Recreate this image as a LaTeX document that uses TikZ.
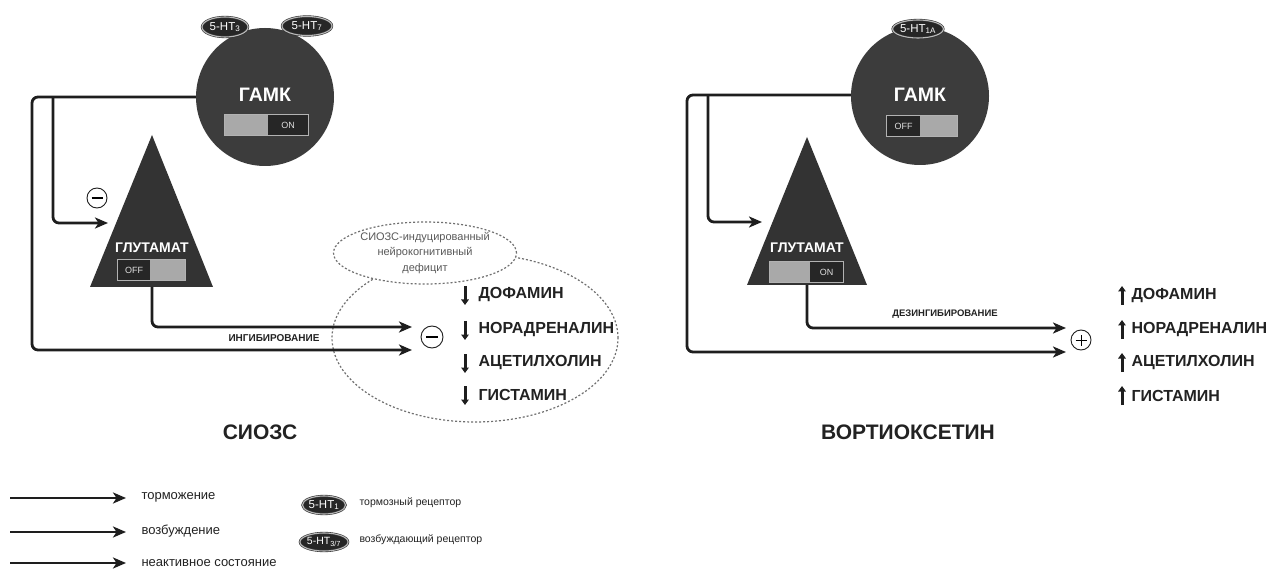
\documentclass[tikz,border=0pt]{standalone}
\usepackage{fontspec}
\setmainfont{Liberation Sans}
\usetikzlibrary{arrows.meta,shapes.geometric}
\definecolor{neur}{HTML}{3C3C3C}
\definecolor{tri}{HTML}{333333}
\definecolor{swl}{HTML}{A9A9A9}
\definecolor{swd}{HTML}{262626}
\definecolor{ln}{HTML}{1E1E1E}
\definecolor{dotc}{HTML}{707070}
\definecolor{txtc}{HTML}{222222}
\tikzset{
  conn/.style={draw=ln, line width=2.8pt, rounded corners=6pt, -{Stealth[length=13pt,width=11pt,inset=3.5pt]}},
  legarrow/.style={draw=ln, line width=2.8pt, -{Stealth[length=13pt,width=11pt,inset=3.5pt]}},
  neuron/.style={circle, fill=neur, inner sep=0pt, minimum size=138pt},
  receptor/.style={ellipse, fill=swd, draw=black!80, double=gray!55, double distance=1.1pt, line width=0.6pt,
     inner sep=0pt, text=white, font=\fontsize{11.5}{11.5}\selectfont},
  bigtxt/.style={text=white, font=\bfseries\fontsize{19.5}{19.5}\selectfont},
  gltxt/.style={text=white, font=\bfseries\fontsize{14}{14}\selectfont},
  swlight/.style={rectangle, fill=swl, inner sep=0pt},
  swdark/.style={rectangle, fill=swd, inner sep=0pt, text=gray!25, font=\fontsize{9}{9}\selectfont},
  swframe/.style={draw=gray!60, line width=1pt},
  dotell/.style={ellipse, draw=dotc, line width=1.2pt, dash pattern=on 2pt off 2pt, inner sep=0pt},
  signc/.style={circle, draw=ln, line width=0.9pt, fill=white, inner sep=0pt, minimum size=21pt},
  nt/.style={anchor=west, text=txtc, font=\bfseries\fontsize{16}{16}\selectfont},
  ntarrow/.style={draw=ln, line width=3pt, -{Triangle[length=5.5pt,width=7.5pt]}},
  title/.style={text=txtc, font=\bfseries\fontsize{21}{21}\selectfont},
  midlab/.style={text=txtc, font=\bfseries\fontsize{10}{10}\selectfont},
  legtxt/.style={anchor=west, text=txtc, font=\fontsize{13}{13}\selectfont},
  legsmall/.style={anchor=west, text=txtc, font=\fontsize{10.5}{10.5}\selectfont},
}
\begin{document}
\begin{tikzpicture}[x=1pt,y=-1pt]
\useasboundingbox (0,0) rectangle (1277,569);
\fill[white] (0,0) rectangle (1277,569);

% ================= LEFT PANEL (SSRI) =================
\node[dotell, minimum width=286pt, minimum height=168pt] (bigell) at (475,338) {};
\node[neuron] (gabaL) at (265,97) {};
\node[receptor, minimum width=46pt, minimum height=20pt] (r3) at (225,27) {5-HT\textsubscript{3}};
\node[receptor, minimum width=50pt, minimum height=19pt] (r7) at (307,26) {5-HT\textsubscript{7}};
\node[bigtxt] (gabaLt) at (265,95) {ГАМК};
\node[swlight, minimum width=43pt, minimum height=20pt] (swL1a) at (246.5,125) {};
\node[swdark, minimum width=40pt, minimum height=20pt] (swL1b) at (288,125) {ON};
\draw[swframe] (swL1a.north west) rectangle (swL1b.south east);
\coordinate (glLtop) at (152,135);
\coordinate (glLbl) at (90,287);
\coordinate (glLbr) at (213,287);
\coordinate (glLbot) at (152,287);
\fill[tri] (glLtop) -- (glLbr) -- (glLbl) -- cycle;
\node[gltxt] (glLt) at (152,248) {ГЛУТАМАТ};
\node[swdark, minimum width=32pt, minimum height=20pt] (swL2a) at (134,270) {OFF};
\node[swlight, minimum width=35pt, minimum height=20pt] (swL2b) at (167.5,270) {};
\draw[swframe] (swL2a.north west) rectangle (swL2b.south east);
\coordinate (cL1) at (32,97);
\coordinate (cL2) at (32,350);
\coordinate (tipL2) at (412,350);
\coordinate (jL) at (53,97);
\coordinate (cL3) at (53,223);
\coordinate (tipL0) at (108,223);
\coordinate (cL4) at (152,327);
\coordinate (tipL1) at (412,327);
\draw[conn] (gabaL.west) -- (cL1) -- (cL2) -- (tipL2);
\draw[conn] (jL) -- (cL3) -- (tipL0);
\draw[conn] (glLbot) -- (cL4) -- (tipL1);
\node[signc, minimum size=20pt] (mL0) at (97,198) {};
\draw[line width=1.1pt] ([xshift=-5.5pt]mL0.center) -- ([xshift=5.5pt]mL0.center);
\node[signc, minimum size=22pt] (mL1) at (432,337) {};
\draw[line width=1.1pt] ([xshift=-6pt]mL1.center) -- ([xshift=6pt]mL1.center);
\node[midlab] (inh) at (274,338) {ИНГИБИРОВАНИЕ};
\node[dotell, fill=white, minimum width=174pt, minimum height=62pt, align=center, text=black!65,
  font=\fontsize{11}{15.5}\selectfont] (defic) at (425,253) {СИОЗС-индуцированный\\нейрокогнитивный\\дефицит};
\node[nt] (dL1) at (475,295) {ДОФАМИН};
\node[nt] (dL2) at (475,330) {НОРАДРЕНАЛИН};
\node[nt] (dL3) at (475,363) {АЦЕТИЛХОЛИН};
\node[nt] (dL4) at (475,395) {ГИСТАМИН};
\foreach \n in {1,2,3,4} {
  \draw[ntarrow] ([xshift=-10pt,yshift=9pt]dL\n.west) -- ([xshift=-10pt,yshift=-10pt]dL\n.west);
}
\node[title] (tL) at (260,432) {СИОЗС};

% ================= RIGHT PANEL (Vortioxetine) =================
\node[neuron] (gabaR) at (920,96) {};
\node[receptor, minimum width=47pt, minimum height=18pt] (r1a) at (918,29) {5-HT\textsubscript{1A}};
\node[bigtxt] (gabaRt) at (920,95) {ГАМК};
\node[swdark, minimum width=33pt, minimum height=21pt] (swR1a) at (903.5,126) {OFF};
\node[swlight, minimum width=37pt, minimum height=21pt] (swR1b) at (938.5,126) {};
\draw[swframe] (swR1a.north west) rectangle (swR1b.south east);
\coordinate (glRtop) at (807,137);
\coordinate (glRbl) at (747,285);
\coordinate (glRbr) at (867,285);
\coordinate (glRbot) at (807,285);
\fill[tri] (glRtop) -- (glRbr) -- (glRbl) -- cycle;
\node[gltxt] (glRt) at (807,248) {ГЛУТАМАТ};
\node[swlight, minimum width=40pt, minimum height=20pt] (swR2a) at (790,272) {};
\node[swdark, minimum width=33pt, minimum height=20pt] (swR2b) at (826.5,272) {ON};
\draw[swframe] (swR2a.north west) rectangle (swR2b.south east);
\coordinate (cR1) at (687,95);
\coordinate (cR2) at (687,352);
\coordinate (tipR2) at (1066,352);
\coordinate (jR) at (708,95);
\coordinate (cR3) at (708,222);
\coordinate (tipR0) at (762,222);
\coordinate (cR4) at (807,328);
\coordinate (tipR1) at (1066,328);
\draw[conn] (gabaR.west |- cR1) -- (cR1) -- (cR2) -- (tipR2);
\draw[conn] (jR) -- (cR3) -- (tipR0);
\draw[conn] (glRbot) -- (cR4) -- (tipR1);
\node[signc, minimum size=20pt] (pR) at (1081,340) {};
\draw[line width=0.8pt] ([xshift=-5.5pt]pR.center) -- ([xshift=5.5pt]pR.center);
\draw[line width=0.8pt] ([yshift=-5.5pt]pR.center) -- ([yshift=5.5pt]pR.center);
\node[midlab, font=\bfseries\fontsize{9.5}{9.5}\selectfont] (disinh) at (945,314) {ДЕЗИНГИБИРОВАНИЕ};
\node[nt] (uR1) at (1128,296) {ДОФАМИН};
\node[nt] (uR2) at (1128,330) {НОРАДРЕНАЛИН};
\node[nt] (uR3) at (1128,363) {АЦЕТИЛХОЛИН};
\node[nt] (uR4) at (1128,396) {ГИСТАМИН};
\foreach \n in {1,2,3,4} {
  \draw[ntarrow] ([xshift=-6pt,yshift=-9pt]uR\n.west) -- ([xshift=-6pt,yshift=10pt]uR\n.west);
}
\node[title] (tR) at (908,432) {ВОРТИОКСЕТИН};

% ================= LEGEND =================
\node[legtxt] (lg1) at (138,497) {торможение};
\node[legtxt] (lg2) at (138,531) {возбуждение};
\node[legtxt] (lg3) at (138,563) {неактивное состояние};
\coordinate (la1) at (10,498);
\coordinate (la2) at (10,532);
\coordinate (la3) at (10,563);
\draw[legarrow] (la1) -- ([xshift=-12pt]lg1.west |- la1);
\draw[legarrow] (la2) -- ([xshift=-12pt]lg2.west |- la2);
\draw[legarrow] (la3) -- ([xshift=-12pt]lg3.west |- la3);
\node[receptor, minimum width=36pt, minimum height=18pt] (lr1) at (324,505) {5-HT\textsubscript{1}};
\node[receptor, minimum width=38pt, minimum height=18pt, font=\fontsize{10.5}{10.5}\selectfont] (lr2) at (324,542) {5-HT\textsubscript{3/7}};
\node[legsmall] (lr1t) at (356,503) {тормозный рецептор};
\node[legsmall] (lr2t) at (356,540) {возбуждающий рецептор};
\end{tikzpicture}
\end{document}
